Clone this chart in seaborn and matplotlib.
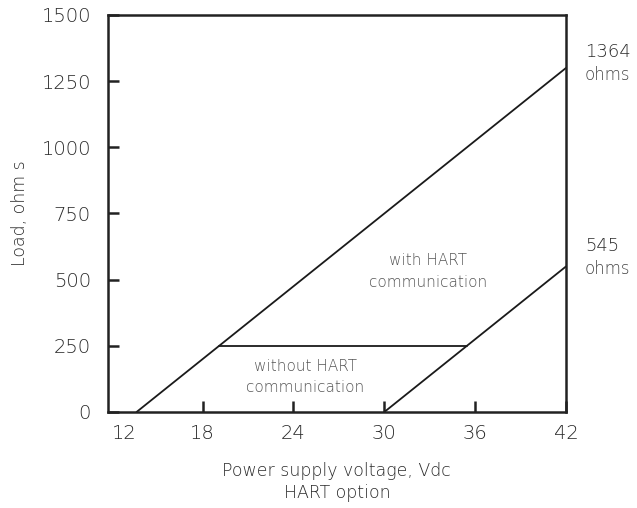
import matplotlib
matplotlib.use("Agg")
import matplotlib.pyplot as plt
import seaborn as sns
import pandas as pd

# Data
x_ticks = [12, 18, 24, 30, 36, 42]
y_ticks = [0, 250, 500, 750, 1000, 1250, 1500]
with_hart_x = [13.64, 42]
with_hart_y = [0, 1300]
without_hart_x = [30, 42]
without_hart_y = [0, 550]
limit_x = [19.06, 35.46]
limit_y = [250, 250]
end_labels = ["1364", "545"]
end_values = [1364, 545]

sns.set_style("ticks")
plt.rcParams["font.family"] = ["DejaVu Sans"]
plt.rcParams["font.weight"] = "light"
plt.rcParams["axes.labelweight"] = "light"

fig = plt.figure(figsize=(6.37, 5.08), dpi=100)
ax = fig.add_axes([0.169, 0.189, 0.8886 - 0.169, 0.9705 - 0.189])

line_color = "#1a1a1a"
for xs, ys in [(with_hart_x, with_hart_y), (without_hart_x, without_hart_y), (limit_x, limit_y)]:
    df = pd.DataFrame({"x": xs, "y": ys})
    sns.lineplot(data=df, x="x", y="y", ax=ax, color=line_color, linewidth=1.3)

ax.set_xlim(11.73, 42)
ax.set_ylim(0, 1500)
ax.set_xticks(x_ticks)
ax.set_yticks(y_ticks)
ax.set_xticklabels([str(t) for t in x_ticks])
ax.set_yticklabels([str(t) for t in y_ticks])
ax.tick_params(axis="both", direction="in", length=8, width=1.8, color="#222222",
               labelsize=14, labelcolor="#2a2a2a")
ax.tick_params(axis="x", pad=9)
ax.tick_params(axis="y", pad=12)
xl = ax.get_xticklabels()
xl[0].set_horizontalalignment("left")
ax.xaxis.get_major_ticks()[0].tick1line.set_visible(False)

for s in ax.spines.values():
    s.set_linewidth(1.8)
    s.set_color("#222222")
    s.set_visible(True)

ax.set_xlabel("Power supply voltage, Vdc\nHART option", fontsize=12.5, color="#2a2a2a",
              labelpad=13, linespacing=1.35)
ax.set_ylabel("Load, ohm s", fontsize=12.5, color="#2a2a2a", labelpad=9)

txt_kw = dict(ha="center", va="center", fontsize=11, color="#555555")
ax.text(32.9, 574, "with HART", **txt_kw)
ax.text(32.9, 491, "communication", **txt_kw)
ax.text(24.8, 170, "without HART", **txt_kw)
ax.text(24.8, 94, "communication", **txt_kw)

for lab, v, yoff in zip(end_labels, end_values, [1360, 627]):
    ax.text(43.25, yoff, lab, ha="left", va="center", fontsize=13, color="#2a2a2a",
            clip_on=False)
    ax.text(43.25, yoff - 88, "ohms", ha="left", va="center", fontsize=12, color="#444444",
            clip_on=False)

fig.savefig("out.png", dpi=100)
